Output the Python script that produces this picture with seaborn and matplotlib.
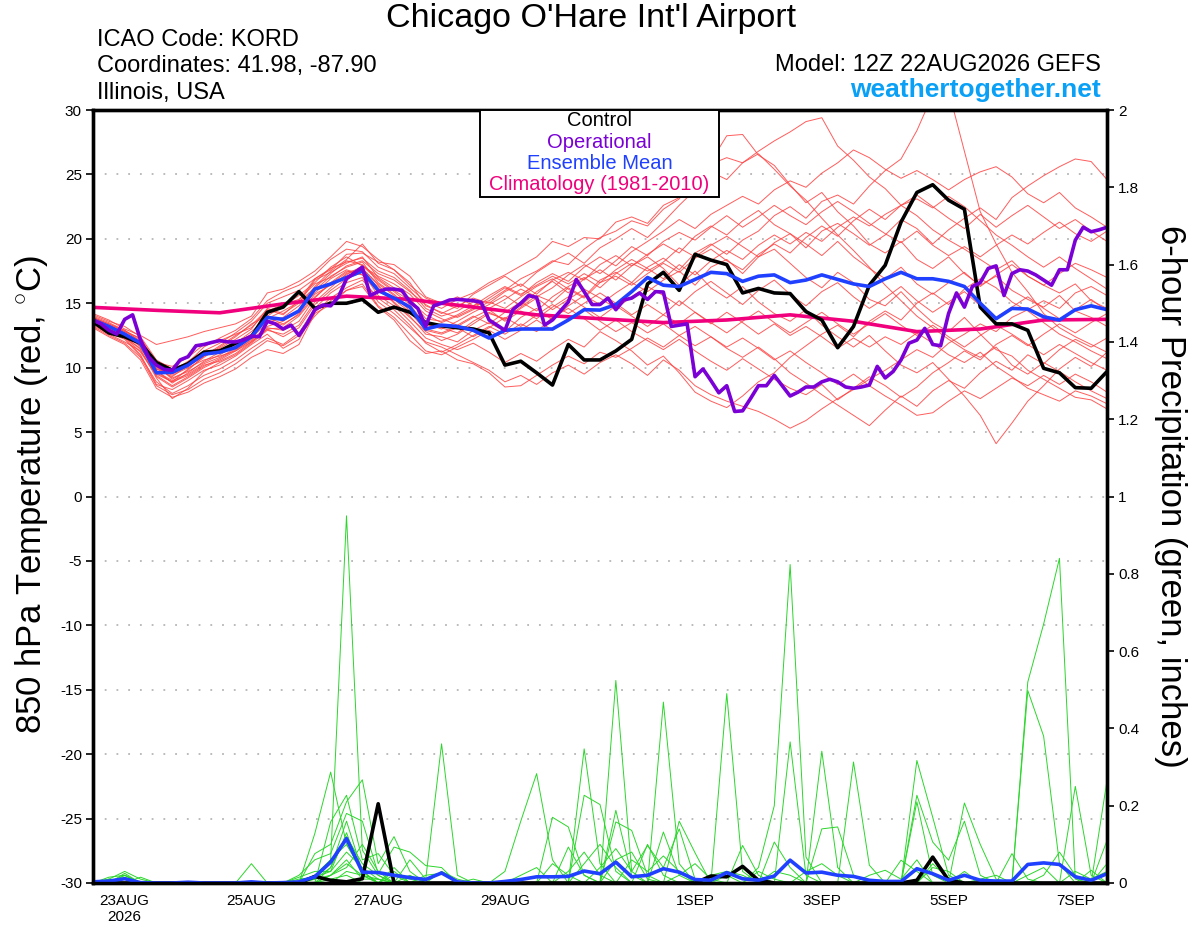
import pandas as pd
import matplotlib
matplotlib.use('Agg')
import matplotlib.pyplot as plt
import seaborn as sns
from matplotlib.patches import Rectangle

sns.set_style('white')
plt.rcParams['font.family'] = ['Liberation Sans', 'DejaVu Sans']
plt.rcParams['mathtext.fontset'] = 'custom'
plt.rcParams['mathtext.rm'] = 'Liberation Sans'
for key in ('text.color', 'axes.labelcolor', 'xtick.color', 'ytick.color'):
    plt.rcParams[key] = 'black'

# ---- time axes (hours after 12Z 22AUG2026) ----
START = pd.Timestamp('2026-08-22 12:00')
hours6 = list(range(0, 385, 6))
hours3 = list(range(0, 385, 3))
hours24 = list(range(0, 385, 24))
tick_dates = ['2026-08-23', '2026-08-25', '2026-08-27', '2026-08-29',
              '2026-09-01', '2026-09-03', '2026-09-05', '2026-09-07']

# ---- 850 hPa temperature (C) ----
control_temp = [13.56, 12.7, 12.4, 11.9, 10.4, 9.8, 10.3, 11.2, 11.3, 11.9, 12.4, 14.3, 14.7,
                15.9, 14.6, 15.0, 15.0, 15.3, 14.3, 14.7, 14.3, 13.5, 13.25, 13.1, 13.0, 12.7,
                10.2, 10.5, 9.6, 8.65, 11.8, 10.6, 10.6, 11.3, 12.2, 16.5, 17.4, 16.0, 18.8,
                18.35, 18.0, 15.8, 16.15, 15.8, 15.75, 14.35, 13.7, 11.55, 13.2, 16.4, 17.95, 21.3,
                23.6, 24.2, 23.0, 22.3, 14.7, 13.4, 13.4, 12.9, 9.95, 9.6, 8.45, 8.4, 9.7]

mean_temp = [13.7, 13.2, 12.6, 11.9, 9.6, 9.64, 10.2, 11.05, 11.2, 11.56, 12.4, 13.9, 13.75,
             14.4, 16.1, 16.5, 17.0, 17.5, 16.0, 15.4, 14.7, 13.0, 13.3, 13.2, 12.9, 12.3,
             12.9, 13.0, 13.0, 13.0, 13.7, 14.5, 14.47, 14.9, 15.9, 17.0, 16.4, 16.3, 16.85,
             17.4, 17.3, 16.7, 17.1, 17.2, 16.6, 16.8, 17.2, 16.85, 16.5, 16.3, 16.9, 17.4,
             16.9, 16.9, 16.7, 16.3, 15.0, 13.8, 14.6, 14.55, 13.95, 13.7, 14.5, 14.8, 14.5]

# operational run is 3-hourly
oper_temp = [13.7, 13.4, 12.9, 12.6, 13.75, 14.1, 12.15, 10.85, 10.2, 9.87, 9.8, 10.6, 10.85,
             11.7, 11.8, 11.96, 12.1, 12.0, 12.0, 12.15, 12.45, 12.4, 13.6, 13.4, 13.0, 13.3,
             12.5, 13.4, 14.5, 14.86, 14.8, 15.5, 16.9, 17.36, 17.8, 15.6, 15.9, 16.1, 16.1,
             16.0, 15.1, 14.6, 13.2, 14.8, 15.0, 15.25, 15.3, 15.25, 15.2, 15.07, 13.7, 13.3,
             12.9, 14.5, 15.0, 15.6, 15.45, 13.3, 13.7, 14.4, 15.1, 16.85, 15.9, 14.9, 14.9,
             15.4, 14.5, 15.25, 15.4, 15.8, 15.3, 15.9, 15.87, 13.2, 13.3, 13.4, 9.3, 9.9,
             9.0, 8.05, 8.6, 6.6, 6.65, 7.6, 8.6, 8.6, 9.4, 8.6, 7.8, 8.1, 8.5,
             8.5, 8.9, 9.1, 8.9, 8.5, 8.4, 8.5, 8.65, 10.1, 9.2, 9.7, 10.6, 11.9,
             12.14, 13.05, 11.8, 11.7, 14.2, 15.8, 14.7, 16.3, 16.6, 17.7, 17.9, 15.6, 17.3,
             17.6, 17.5, 17.2, 16.8, 16.4, 17.6, 17.6, 19.9, 20.9, 20.55, 20.7, 20.9]

# climatology, daily
clim_temp = [14.68, 14.45, 14.26, 14.95, 15.55, 15.3, 14.7, 14.1, 13.8,
             13.5, 13.7, 14.1, 13.6, 12.8, 13.0, 13.7, 13.75]

# ensemble members (6-hourly)
temp_members = [
    [13.9, 13.4, 12.9, 12.0, 10.2, 9.1, 9.8, 10.9, 11.5, 12.2, 13.0, 14.6, 14.2, 15.0, 16.8,
     17.4, 18.1, 18.6, 17.0, 16.2, 15.4, 13.8, 13.6, 14.1, 14.8, 15.2, 16.0, 16.9, 17.5, 18.3,
     18.0, 19.2, 20.1, 20.6, 21.4, 21.0, 22.3, 23.1, 24.6, 25.8, 26.3, 25.9, 26.8, 27.6, 28.3,
     29.1, 29.4, 27.2, 26.1, 24.8, 23.9, 22.6, 21.8, 20.7, 19.9, 19.2, 18.4, 17.6, 18.3, 17.1,
     16.4, 15.8, 16.5, 15.2, 14.6],
    [13.5, 12.9, 12.4, 11.2, 9.4, 8.6, 9.3, 10.1, 10.7, 11.4, 12.1, 13.2, 13.6, 14.5, 15.8,
     16.9, 17.6, 17.2, 16.3, 15.0, 13.9, 12.8, 12.1, 12.6, 13.4, 14.2, 13.8, 14.7, 15.6, 15.1,
     16.2, 15.5, 16.8, 17.4, 16.6, 17.8, 18.5, 17.6, 18.9, 19.6, 18.8, 19.9, 20.6, 21.8, 22.5,
     21.6, 22.9, 23.4, 22.7, 24.1, 25.3, 26.2, 28.4, 31.2, 31.5, 26.8, 22.1, 19.6, 17.4, 15.9,
     14.2, 13.1, 12.4, 11.8, 11.2],
    [13.4, 12.7, 12.2, 10.9, 8.9, 8.0, 8.6, 9.4, 9.9, 10.6, 11.5, 12.3, 11.8, 12.7, 14.6,
     15.8, 16.6, 17.0, 15.1, 14.2, 13.1, 12.0, 11.6, 11.0, 10.4, 9.8, 8.9, 9.4, 8.7, 9.6,
     10.2, 9.5, 10.4, 11.0, 10.3, 9.4, 10.6, 9.8, 8.6, 7.9, 7.4, 7.0, 6.6, 6.0, 5.3,
     5.9, 6.8, 7.6, 8.3, 9.1, 9.8, 10.6, 11.4, 10.8, 11.9, 12.6, 13.4, 12.8, 13.9, 14.5,
     15.2, 14.6, 15.8, 16.3, 15.6],
    [13.8, 13.1, 12.7, 11.6, 9.8, 8.8, 9.6, 10.5, 11.2, 11.9, 12.6, 13.7, 13.3, 14.2, 16.0,
     17.1, 17.8, 18.2, 16.6, 15.7, 14.6, 13.4, 13.0, 13.6, 14.3, 14.9, 15.6, 14.8, 15.9, 16.7,
     15.8, 16.9, 17.6, 16.8, 17.9, 18.6, 17.7, 16.4, 17.5, 16.2, 15.4, 16.3, 15.1, 14.2, 13.6,
     14.5, 13.3, 12.4, 11.6, 12.5, 11.3, 10.2, 9.6, 10.4, 9.1, 7.8, 6.3, 4.1, 5.7, 7.4,
     8.6, 9.9, 10.8, 10.1, 11.2],
    [14.1, 13.6, 13.2, 12.4, 10.6, 9.9, 10.4, 11.6, 12.3, 12.9, 13.8, 15.2, 15.9, 16.4, 17.2,
     18.4, 19.2, 19.0, 17.8, 17.3, 16.2, 15.1, 14.6, 15.3, 15.8, 16.6, 17.2, 17.9, 18.6, 19.8,
     19.4, 20.1, 20.0, 21.3, 21.7, 21.2, 22.6, 23.2, 25.0, 26.0, 28.0, 28.1, 26.5, 25.7, 24.2,
     22.8, 23.6, 22.1, 21.0, 19.6, 18.9, 19.8, 18.4, 17.7, 18.6, 17.3, 16.4, 17.1, 16.0, 15.3,
     14.7, 15.6, 14.4, 13.9, 13.2],
    [13.6, 13.0, 12.5, 11.4, 9.2, 7.6, 8.4, 9.7, 10.4, 11.0, 11.9, 12.9, 12.6, 13.3, 15.1,
     16.2, 17.3, 17.7, 16.4, 15.1, 14.0, 12.6, 12.4, 12.0, 12.9, 13.5, 12.8, 13.9, 14.6, 13.7,
     14.8, 15.6, 14.9, 15.8, 16.6, 15.9, 16.8, 17.5, 16.4, 17.8, 18.4, 17.3, 18.6, 19.2, 18.1,
     17.0, 16.2, 17.4, 16.6, 15.3, 14.8, 15.9, 14.6, 13.5, 12.8, 13.9, 12.6, 11.4, 10.9, 9.8,
     9.1, 8.4, 7.7, 7.5, 6.8],
    [13.3, 12.6, 12.0, 11.3, 9.5, 8.9, 9.9, 10.8, 11.6, 12.4, 13.4, 14.0, 14.8, 15.6, 16.6,
     17.8, 18.6, 17.9, 17.1, 16.5, 15.7, 14.4, 13.8, 13.3, 14.0, 13.4, 14.3, 15.1, 14.4, 15.5,
     16.3, 17.0, 16.2, 17.3, 18.1, 17.5, 18.2, 19.3, 18.6, 19.5, 20.2, 19.4, 18.6, 19.7, 20.4,
     19.3, 20.6, 21.2, 20.4, 19.5, 20.3, 21.5, 20.8, 19.6, 20.7, 21.6, 22.4, 21.5, 23.2, 24.1,
     24.9, 25.6, 26.2, 26.0, 24.6],
    [13.7, 13.3, 12.8, 12.1, 10.0, 9.4, 10.0, 10.6, 10.9, 11.3, 12.0, 13.0, 12.4, 13.1, 14.9,
     16.0, 16.9, 17.4, 15.6, 14.8, 13.6, 12.3, 11.8, 11.4, 11.9, 11.2, 10.4, 11.1, 10.5, 11.4,
     12.2, 11.6, 12.8, 12.1, 11.3, 10.2, 10.9, 9.6, 8.1, 7.4, 6.9, 7.8, 8.9, 9.6, 10.8,
     11.7, 12.6, 13.3, 12.4, 13.6, 14.4, 13.7, 15.0, 15.8, 14.9, 16.1, 16.9, 16.2, 15.1, 14.4,
     13.5, 12.6, 12.0, 11.3, 10.7],
    [13.9, 13.4, 12.8, 12.3, 10.4, 10.1, 10.8, 11.8, 12.1, 12.6, 13.1, 14.4, 14.9, 15.3, 16.5,
     17.0, 17.9, 18.3, 17.3, 16.8, 15.9, 14.9, 14.2, 14.8, 15.4, 15.0, 15.9, 16.5, 15.7, 16.8,
     17.4, 16.8, 18.0, 18.7, 17.9, 18.8, 19.6, 18.9, 20.2, 21.0, 20.3, 21.4, 22.2, 21.1, 20.4,
     19.6, 18.7, 19.8, 18.6, 17.7, 16.9, 17.8, 16.5, 15.7, 16.6, 17.4, 16.3, 17.2, 18.0, 17.1,
     16.4, 17.3, 18.1, 17.6, 17.0],
    [13.5, 12.9, 12.3, 11.0, 8.7, 8.3, 9.0, 9.8, 10.2, 10.9, 11.8, 12.6, 11.5, 12.2, 14.3,
     15.4, 16.2, 16.8, 15.4, 14.5, 13.3, 11.9, 11.2, 11.8, 12.5, 13.2, 12.6, 13.4, 12.8, 13.9,
     14.6, 13.8, 12.9, 13.7, 12.8, 12.1, 11.4, 12.2, 11.3, 10.5, 9.8, 10.7, 9.9, 9.1, 8.4,
     7.9, 8.7, 7.5, 8.4, 9.3, 8.6, 7.7, 8.5, 9.6, 10.4, 11.3, 10.6, 11.8, 12.5, 11.7,
     12.6, 13.4, 12.7, 13.5, 14.2],
    [14.0, 13.5, 12.9, 12.2, 10.3, 9.7, 10.5, 11.3, 11.9, 12.7, 13.6, 15.0, 15.5, 16.0, 16.9,
     17.6, 18.8, 18.9, 18.2, 18.0, 17.1, 15.5, 15.0, 14.6, 15.7, 16.4, 17.1, 16.3, 17.4, 18.2,
     18.9, 18.1, 19.3, 20.0, 20.8, 20.1, 21.3, 22.6, 23.8, 25.2, 24.6, 25.9, 26.6, 25.4, 24.1,
     23.0, 21.6, 20.3, 19.1, 17.8, 16.4, 15.2, 14.0, 13.1, 12.2, 11.4, 10.8, 11.6, 10.2, 9.5,
     10.4, 9.7, 8.9, 8.2, 7.6],
    [13.6, 13.1, 12.6, 11.8, 9.9, 9.3, 10.2, 11.1, 11.4, 11.9, 12.8, 13.9, 13.4, 14.1, 15.7,
     16.4, 17.2, 17.9, 16.8, 15.9, 14.9, 13.3, 13.1, 12.7, 13.6, 14.3, 13.7, 14.6, 15.4, 14.5,
     15.3, 16.1, 15.4, 14.6, 15.5, 16.3, 15.6, 14.8, 15.9, 16.7, 15.8, 14.9, 16.0, 16.8, 15.7,
     14.8, 15.9, 16.6, 15.5, 14.6, 15.4, 16.3, 15.2, 14.3, 15.1, 15.9, 14.8, 13.9, 14.7, 15.5,
     14.6, 13.8, 14.5, 15.3, 14.4],
    [13.2, 12.5, 11.9, 10.8, 8.6, 7.9, 8.3, 9.1, 9.6, 10.3, 11.2, 12.1, 11.7, 12.5, 14.0,
     15.2, 16.0, 16.5, 14.8, 13.9, 12.6, 11.3, 11.0, 11.6, 12.2, 12.9, 12.2, 12.9, 13.7, 12.9,
     13.8, 14.5, 13.6, 12.8, 13.5, 12.7, 13.4, 12.5, 11.7, 12.4, 11.5, 10.8, 11.6, 10.7, 9.6,
     8.8, 7.9, 7.1, 6.3, 5.5, 6.7, 7.8, 7.0, 8.2, 9.0, 8.4, 9.6, 10.5, 9.8, 11.0,
     10.3, 11.4, 12.2, 11.6, 12.3],
    [13.8, 13.2, 12.7, 11.9, 10.1, 9.2, 9.7, 10.4, 11.0, 11.7, 12.5, 13.8, 14.4, 15.1, 16.2,
     17.3, 18.3, 18.0, 16.9, 16.0, 15.2, 14.1, 13.5, 14.0, 14.6, 15.4, 16.2, 15.6, 16.6, 17.3,
     16.7, 17.8, 18.6, 17.9, 19.0, 19.8, 20.6, 21.5, 20.8, 21.9, 22.6, 23.3, 22.7, 23.8, 24.5,
     24.0, 25.1, 25.9, 26.9, 26.3, 25.4, 24.7, 25.3, 24.6, 23.8, 24.6, 25.2, 25.6, 24.8, 23.5,
     22.8, 23.6, 22.4, 21.7, 20.9],
    [13.4, 12.8, 12.3, 11.5, 9.7, 9.0, 9.5, 10.3, 10.8, 11.5, 12.3, 13.5, 13.9, 14.8, 16.3,
     17.5, 18.4, 19.6, 18.1, 17.6, 16.6, 14.8, 14.3, 13.9, 14.5, 15.1, 14.6, 15.5, 16.3, 16.9,
     16.1, 15.4, 16.6, 17.1, 16.4, 17.3, 18.1, 17.4, 18.5, 19.2, 18.3, 17.6, 18.8, 19.6, 18.9,
     20.1, 21.0, 20.2, 21.4, 22.3, 21.5, 22.6, 23.4, 22.5, 21.6, 20.8, 21.9, 20.9, 21.8, 22.6,
     21.7, 20.8, 21.5, 20.6, 19.8],
    [13.7, 13.0, 12.4, 11.7, 9.3, 8.5, 9.2, 10.0, 10.6, 11.3, 12.2, 13.1, 12.9, 13.6, 15.4,
     16.6, 17.5, 17.2, 15.9, 15.3, 14.3, 12.9, 12.6, 13.1, 12.4, 13.1, 13.9, 13.2, 14.1, 14.9,
     14.2, 15.0, 15.8, 15.0, 14.1, 14.9, 14.1, 15.2, 14.3, 13.4, 14.3, 13.5, 12.6, 13.4, 12.5,
     13.2, 12.4, 11.5, 12.3, 11.6, 12.4, 11.8, 12.7, 11.9, 11.0, 10.4, 11.2, 10.1, 9.3, 8.4,
     7.9, 7.4, 8.2, 7.8, 7.2],
    [14.2, 13.7, 13.0, 12.5, 11.8, 12.1, 12.4, 12.8, 13.1, 13.4, 14.0, 15.8, 16.1, 16.7, 17.5,
     18.6, 19.8, 19.4, 18.4, 17.6, 16.4, 15.4, 14.9, 15.5, 14.8, 15.6, 16.3, 15.7, 16.4, 17.1,
     16.5, 17.3, 16.6, 17.6, 18.4, 17.7, 16.9, 18.0, 17.2, 18.3, 19.1, 18.4, 19.5, 20.3, 19.6,
     20.5, 19.8, 20.9, 21.7, 21.0, 21.9, 22.6, 23.1, 22.4, 23.3, 22.5, 21.4, 20.3, 19.5, 18.6,
     17.8, 18.6, 17.7, 16.9, 16.1],
    [13.1, 12.4, 11.8, 10.6, 8.4, 7.7, 8.1, 8.8, 9.3, 9.9, 10.8, 11.4, 11.1, 11.8, 14.2,
     14.9, 16.0, 16.3, 14.7, 13.7, 12.1, 11.1, 11.3, 10.6, 10.3, 9.6, 8.5, 8.6, 9.4, 10.2,
     10.9, 10.3, 11.2, 10.8, 11.5, 12.3, 11.6, 12.5, 13.2, 12.4, 11.6, 12.3, 11.5, 10.6, 11.3,
     10.4, 9.6, 8.7, 9.5, 8.6, 7.8, 7.1, 6.3, 6.5, 7.4, 8.2, 7.6, 8.4, 9.2, 8.6,
     9.4, 8.7, 9.5, 8.9, 8.1],
    [13.9, 13.3, 12.6, 11.8, 9.9, 9.5, 10.1, 10.9, 11.7, 12.5, 13.3, 14.5, 14.1, 15.2, 16.9,
     17.7, 18.2, 18.5, 17.5, 17.0, 16.0, 14.6, 14.0, 14.4, 15.1, 14.6, 15.3, 16.1, 15.5, 16.2,
     17.2, 18.0, 17.3, 18.3, 19.4, 18.7, 19.8, 20.5, 19.9, 20.9, 21.8, 20.9, 21.7, 22.6, 21.8,
     21.1, 22.1, 22.9, 22.1, 21.2, 20.4, 19.7, 20.6, 19.5, 18.7, 19.4, 18.6, 19.5, 20.3, 19.6,
     20.5, 21.3, 20.4, 19.8, 20.6],
    [13.6, 12.9, 12.5, 11.7, 9.6, 8.9, 9.4, 10.2, 10.5, 11.1, 12.0, 13.0, 13.1, 14.0, 15.5,
     16.5, 17.4, 17.7, 16.5, 15.6, 14.4, 13.0, 12.7, 13.2, 13.9, 14.5, 13.6, 14.4, 13.8, 14.7,
     15.5, 14.7, 13.9, 14.8, 14.0, 13.2, 14.1, 13.4, 14.3, 13.5, 12.7, 13.6, 14.4, 13.5, 12.7,
     13.5, 14.3, 13.4, 12.6, 13.4, 14.2, 13.3, 12.5, 13.3, 12.4, 11.6, 12.5, 13.3, 12.6, 11.8,
     11.0, 11.8, 11.1, 10.4, 9.8],
]

# ---- 6-hour precipitation (inches) ----
control_precip = [0, 0, 0, 0, 0, 0, 0, 0, 0, 0, 0, 0, 0,
                  0, 0.017, 0.007, 0.003, 0.011, 0.205, 0, 0, 0, 0, 0, 0, 0,
                  0, 0, 0, 0, 0, 0, 0, 0, 0, 0, 0, 0, 0,
                  0.018, 0.016, 0.043, 0.007, 0, 0, 0, 0, 0, 0, 0, 0, 0,
                  0.007, 0.067, 0.007, 0, 0, 0, 0, 0, 0, 0, 0, 0, 0]

mean_precip = [0.003, 0.005, 0.011, 0.001, 0, 0, 0.002, 0, 0, 0, 0.003, 0, 0.001,
               0.003, 0.016, 0.054, 0.115, 0.028, 0.027, 0.02, 0.014, 0.009, 0.026, 0.003, 0, 0,
               0.004, 0.009, 0.016, 0.016, 0.017, 0.031, 0.024, 0.054, 0.016, 0.02, 0.037, 0.028, 0.009,
               0.007, 0.027, 0.011, 0.007, 0.018, 0.059, 0.026, 0.028, 0.02, 0.017, 0.007, 0.004, 0.004,
               0.037, 0.024, 0.007, 0.02, 0.007, 0.005, 0.005, 0.048, 0.052, 0.048, 0.016, 0.007, 0.024]

precip_members = [
    [0, .01, .03, .01, 0, 0, 0, 0, 0, 0, 0, 0, 0,
     0, .02, .06, .95, .085, .02, 0, 0, 0, 0, 0, 0, 0,
     0, 0, 0, 0, 0, 0, 0, .524, .03, 0, 0, 0, 0,
     0, 0, 0, 0, 0, 0, 0, 0, 0, 0, 0, 0, 0,
     .21, .02, 0, 0, 0, 0, 0, 0, 0, 0, 0, 0, 0],
    [0, 0, .02, 0, 0, 0, 0, 0, 0, 0, 0, 0, 0,
     0, .128, .287, .1, .03, 0, 0, 0, 0, 0, 0, 0, 0,
     .03, .16, .283, .06, 0, 0, 0, 0, 0, 0, .132, .02, 0,
     0, 0, 0, .04, .2, .824, .067, 0, 0, 0, 0, 0, 0,
     0, 0, 0, 0, 0, 0, 0, 0, 0, 0, 0, 0, 0],
    [0, 0, .025, 0, 0, 0, 0, 0, 0, 0, 0, 0, 0,
     0, 0, .158, .227, .06, .076, .02, 0, 0, 0, 0, 0, 0,
     0, 0, 0, 0, 0, .347, .05, 0, 0, 0, 0, 0, 0,
     0, .49, .03, 0, 0, 0, 0, 0, 0, 0, 0, 0, 0,
     0, 0, 0, 0, 0, 0, 0, .52, .67, .84, .01, 0, 0],
    [0, .015, .02, 0, 0, 0, 0, 0, 0, 0, 0, 0, 0,
     0, .076, .1, .21, .267, .05, .12, .03, 0, 0, 0, 0, 0,
     0, 0, 0, 0, 0, 0, 0, .188, .02, 0, 0, 0, 0,
     0, 0, 0, 0, 0, .365, .02, 0, 0, 0, 0, 0, 0,
     0, 0, 0, 0, 0, 0, 0, .498, .38, .05, 0, 0, 0],
    [0, 0, .015, 0, 0, 0, 0, 0, 0, 0, 0, 0, 0,
     .02, .06, .076, .18, .16, .024, .093, .08, .045, .04, 0, 0, 0,
     0, 0, 0, 0, 0, 0, 0, 0, 0, 0, .468, .05, 0,
     0, 0, 0, 0, 0, 0, 0, .341, .04, 0, 0, 0, 0,
     0, 0, 0, 0, 0, 0, 0, 0, 0, 0, 0, 0, .265],
    [0, 0, 0, 0, 0, 0, 0, 0, 0, 0, .05, 0, 0,
     0, 0, .04, .16, .03, 0, 0, .06, .01, .36, .02, 0, 0,
     0, 0, 0, 0, 0, .227, .203, .03, 0, 0, 0, 0, 0,
     0, 0, 0, 0, 0, 0, 0, 0, 0, .313, .046, 0, 0,
     .317, .17, .02, 0, 0, 0, 0, 0, 0, 0, 0, 0, 0],
    [0, 0, .01, 0, 0, 0, 0, 0, 0, 0, 0, 0, 0,
     .015, .03, .03, .13, .02, 0, .04, 0, 0, 0, 0, 0, 0,
     0, 0, 0, .17, .145, .02, 0, 0, 0, 0, 0, .16, .078,
     0, 0, 0, 0, 0, 0, 0, 0, 0, 0, 0, 0, 0,
     0, 0, 0, .207, .1, .01, 0, 0, 0, 0, 0, 0, 0],
    [0, .01, 0, .015, 0, 0, 0, 0, 0, 0, 0, 0, 0,
     0, .02, .06, .1, .03, 0, 0, 0, 0, .03, .01, 0, 0,
     0, 0, 0, 0, 0, 0, 0, 0, 0, .1, .02, 0, 0,
     0, 0, 0, 0, .106, .04, 0, .14, .145, .02, 0, 0, 0,
     0, 0, 0, 0, 0, 0, 0, 0, 0, 0, .25, .02, 0],
    [0, 0, 0, 0, 0, 0, 0, 0, 0, 0, 0, 0, 0,
     0, 0, .02, .06, .01, .01, 0, 0, 0, 0, 0, 0, 0,
     0, 0, 0, 0, .093, .02, 0, .158, .136, .02, 0, 0, 0,
     0, 0, .097, .02, 0, 0, 0, 0, 0, 0, 0, 0, 0,
     .227, .106, .059, .16, .02, 0, 0, 0, 0, 0, 0, 0, .11],
    [0, 0, 0, 0, 0, 0, 0, 0, 0, 0, 0, 0, 0,
     .01, .015, .03, .08, .04, .01, 0, 0, 0, 0, 0, 0, 0,
     0, 0, 0, 0, 0, 0, .04, .089, .03, .097, .04, .14, .01,
     0, 0, 0, 0, 0, 0, 0, 0, 0, 0, 0, 0, .059,
     .03, 0, 0, 0, 0, 0, .076, .01, 0, 0, 0, .033, 0],
    [0, 0, .02, 0, 0, 0, 0, 0, 0, 0, 0, 0, 0,
     0, .01, .04, .12, .05, .02, 0, .02, 0, 0, 0, 0, 0,
     0, 0, 0, .05, .02, 0, 0, 0, 0, 0, 0, 0, 0,
     .02, .03, .02, 0, 0, 0, 0, 0, 0, 0, 0, 0, 0,
     0, 0, 0, .03, 0, 0, 0, 0, .02, .08, .02, 0, 0],
    [0, 0, 0, 0, 0, 0, 0, 0, 0, 0, 0, 0, 0,
     0, 0, .02, .05, .02, 0, .03, 0, .02, .025, 0, 0, 0,
     0, .02, .04, 0, 0, .05, .1, .04, 0, 0, 0, 0, 0,
     0, 0, 0, 0, 0, 0, .03, .05, .02, 0, 0, 0, 0,
     0, .05, .01, 0, 0, 0, 0, 0, 0, 0, 0, 0, 0],
    [0, 0, 0, 0, 0, 0, 0, 0, 0, 0, 0, 0, 0,
     0, .01, .02, .04, .1, .03, 0, 0, 0, 0, 0, 0, 0,
     0, 0, 0, 0, 0, 0, 0, 0, .06, .03, .07, .03, 0,
     0, 0, 0, 0, 0, 0, 0, 0, 0, 0, .02, .033, .01,
     .06, 0, 0, 0, .01, .02, 0, 0, 0, 0, 0, 0, 0],
    [0, 0, 0, 0, 0, 0, 0, 0, 0, 0, 0, 0, 0,
     0, 0, 0, .03, .02, .01, 0, 0, 0, 0, 0, .01, 0,
     0, 0, 0, 0, .03, .08, .02, 0, 0, 0, 0, .02, .05,
     .01, 0, 0, 0, .03, .02, 0, 0, 0, 0, 0, 0, 0,
     0, 0, 0, 0, 0, 0, 0, .02, .04, 0, 0, 0, .05],
    [0, 0, .01, 0, 0, 0, 0, 0, 0, 0, 0, 0, 0,
     0, 0, .01, .02, 0, 0, .02, .01, 0, 0, 0, 0, 0,
     0, 0, 0, 0, 0, 0, 0, .06, .08, .01, 0, 0, 0,
     0, .02, 0, .03, .01, 0, 0, 0, 0, 0, 0, 0, 0,
     0, .04, .03, 0, 0, 0, 0, 0, 0, 0, .03, .01, .03],
]

# ---- text ----
title = "Chicago O'Hare Int'l Airport"
info_lines = ['ICAO Code: KORD', 'Coordinates: 41.98, -87.90', 'Illinois, USA']
model_text = 'Model: 12Z 22AUG2026 GEFS'
site_text = 'weathertogether.net'
legend_items = [('Control', 'black'), ('Operational', '#7a00d6'),
                ('Ensemble Mean', '#2040ff'), ('Climatology (1981-2010)', '#f0007c')]

for m in temp_members + precip_members + [control_temp, mean_temp, control_precip, mean_precip]:
    assert len(m) == len(hours6), len(m)
assert len(oper_temp) == len(hours3)


def long_frame(members):
    rows = [(k, h, v) for k, m in enumerate(members) for h, v in zip(hours6, m)]
    return pd.DataFrame(rows, columns=['member', 'hour', 'value'])


fig = plt.figure(figsize=(12, 9.27), dpi=100)
ax = fig.add_axes([93 / 1200, 1 - 883 / 927, 1014 / 1200, 773 / 927])
ax2 = ax.twinx()

# gridlines from the temperature axis
for yv in range(-25, 30, 5):
    ax.axhline(yv, color='#b5b5b5', lw=1.3, ls=(0, (1, 5.5)), zorder=0)

sns.lineplot(data=long_frame(temp_members), x='hour', y='value', units='member',
             estimator=None, color='#ff4040', lw=0.7, alpha=0.85, ax=ax, legend=False)
sns.lineplot(x=hours24, y=clim_temp, color='#f0007c', lw=2.6, ax=ax)
sns.lineplot(x=hours6, y=control_temp, color='black', lw=2.6, ax=ax)
sns.lineplot(x=hours6, y=mean_temp, color='#2040ff', lw=2.6, ax=ax)
sns.lineplot(x=hours3, y=oper_temp, color='#7a00d6', lw=2.6, ax=ax)

sns.lineplot(data=long_frame(precip_members), x='hour', y='value', units='member',
             estimator=None, color='#2bd62b', lw=0.7, ax=ax2, legend=False)
sns.lineplot(x=hours6, y=control_precip, color='black', lw=2.6, ax=ax2)
sns.lineplot(x=hours6, y=mean_precip, color='#2040ff', lw=2.6, ax=ax2)

ax.set_xlim(0, 384)
ax.set_ylim(-30, 30)
ax2.set_ylim(0, 2)

tick_ts = [pd.Timestamp(d) for d in tick_dates]
ax.set_xticks([(t - START) / pd.Timedelta(hours=1) for t in tick_ts])
labels = [f"{t.day}{t.strftime('%b').upper()}" for t in tick_ts]
labels[0] += '\n2026'
ax.set_xticklabels(labels)
ax.set_yticks(range(-30, 31, 5))
ax.set_yticklabels([str(v) for v in range(-30, 31, 5)])
rticks = [i / 5 for i in range(11)]
ax2.set_yticks(rticks)
ax2.set_yticklabels([f'{v:g}' for v in rticks])

ax.set_xlabel('')
ax.set_ylabel('')
ax2.set_ylabel('')
ax.tick_params(axis='both', direction='out', length=5, width=1.2, labelsize=11,
               colors='black', pad=3)
ax2.tick_params(axis='y', direction='out', length=5, width=1.2, labelsize=11,
                colors='black', pad=3)
for a in (ax, ax2):
    for s in a.spines.values():
        s.set_linewidth(2.4)
        s.set_color('black')

# legend box hanging from the top of the plot
ax2.add_patch(Rectangle((0.3817, 0.8875), 0.2357, 0.1125, transform=ax2.transAxes,
                        facecolor='white', edgecolor='black', lw=1.4, zorder=10))
for (txt, col), yy in zip(legend_items, [0.9858, 0.9586, 0.9314, 0.903]):
    ax2.text(0.4996, yy, txt, color=col, fontsize=14.5, ha='center', va='center',
             transform=ax2.transAxes, zorder=11)

fig.text(591 / 1200, 1 - 19 / 927, title, fontsize=24.5, ha='center', va='center')
for txt, yp in zip(info_lines, [40, 66, 93]):
    fig.text(97 / 1200, 1 - yp / 927, txt, fontsize=17, ha='left', va='center')
fig.text(1101 / 1200, 1 - 65 / 927, model_text, fontsize=17, ha='right', va='center')
fig.text(1101 / 1200, 1 - 90 / 927, site_text, fontsize=19, fontweight='bold',
         color='#0aa0f5', ha='right', va='center')

fig.text(32 / 1200, 0.466, r'850 hPa Temperature (red, $^{\circ}$C)', fontsize=25,
         rotation=90, ha='center', va='center')
fig.text(1170 / 1200, 0.465, '6-hour Precipitation (green, inches)', fontsize=25,
         rotation=270, ha='center', va='center')

fig.savefig('out.png', dpi=100, facecolor='white')
